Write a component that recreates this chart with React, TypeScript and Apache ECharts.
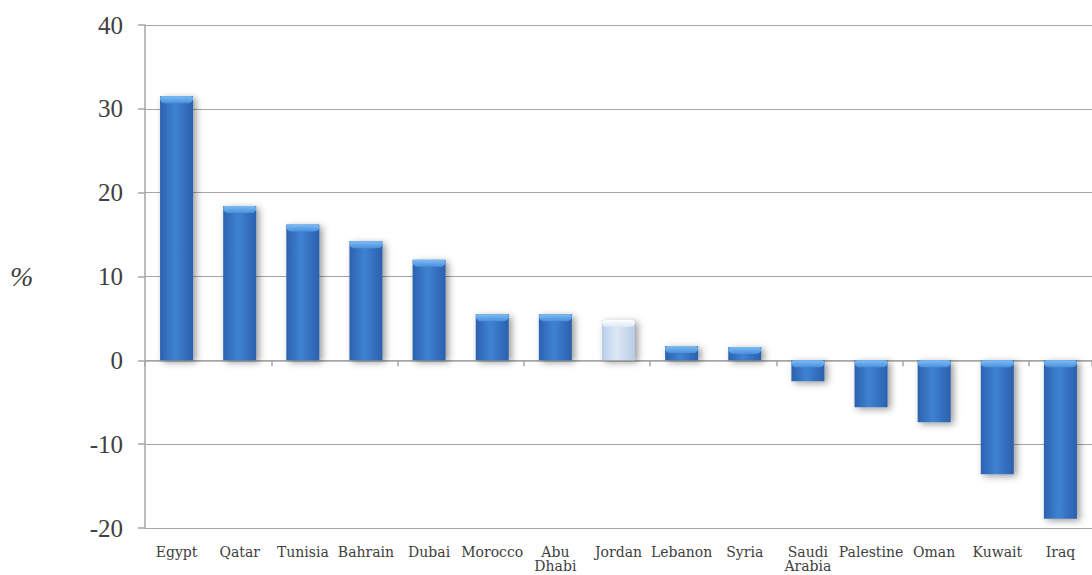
import React, { useEffect, useRef } from "react";
import * as echarts from "echarts";

const categories = ["Egypt", "Qatar", "Tunisia", "Bahrain", "Dubai", "Morocco", "Abu\nDhabi", "Jordan", "Lebanon", "Syria", "Saudi\nArabia", "Palestine", "Oman", "Kuwait", "Iraq"];
const values = [31.5, 18.4, 16.2, 14.2, 12.0, 5.5, 5.5, 4.8, 1.7, 1.6, -2.5, -5.6, -7.4, -13.6, -18.9];
const highlighted = ["Jordan"];
const yTicks = { min: -20, max: 40, interval: 10 };

const TICK_FONT = "Liberation Serif";
const LABEL_FONT = "DejaVu Serif";

export default function App() {
  const ref = useRef<HTMLDivElement>(null);
  useEffect(() => {
    if (!ref.current) return;
    const chart = echarts.init(ref.current, null, { renderer: "svg" });
    const blueGrad = new echarts.graphic.LinearGradient(0, 0, 1, 0, [
      { offset: 0, color: "#2c62ae" },
      { offset: 0.45, color: "#3f82d2" },
      { offset: 1, color: "#2b60ad" },
    ]);
    const lightGrad = new echarts.graphic.LinearGradient(0, 0, 1, 0, [
      { offset: 0, color: "#b9cde8" },
      { offset: 0.45, color: "#dde8f6" },
      { offset: 1, color: "#b7cbe6" },
    ]);
    const data = values.map((v, i) => {
      const hl = highlighted.includes(categories[i]);
      return {
        value: v,
        itemStyle: {
          color: hl ? lightGrad : blueGrad,
          shadowColor: "rgba(0,0,0,0.4)",
          shadowBlur: 7,
          shadowOffsetX: 3,
          shadowOffsetY: 2,
        },
      };
    });
    chart.setOption({
      animation: false,
      grid: { left: 145, top: 25, width: 955, height: 503, containLabel: false },
      xAxis: [
        {
          type: "category",
          data: categories,
          position: "bottom",
          axisLine: { show: false, onZero: false },
          axisTick: { show: false },
          axisLabel: {
            color: "#404040",
            fontFamily: LABEL_FONT,
            fontSize: 14,
            lineHeight: 14,
            margin: 17,
            interval: 0,
          },
        },
        {
          type: "category",
          data: categories,
          position: "bottom",
          axisLine: { show: true, onZero: true, lineStyle: { color: "#a6a6a6", width: 1.5 } },
          axisTick: { show: true, length: 6, lineStyle: { color: "#a6a6a6", width: 1.5 } },
          axisLabel: { show: false },
        },
      ],
      yAxis: {
        type: "value",
        min: yTicks.min,
        max: yTicks.max,
        interval: yTicks.interval,
        axisLine: { show: true, lineStyle: { color: "#a6a6a6", width: 1.5 } },
        axisTick: { show: true, length: 7, lineStyle: { color: "#a6a6a6", width: 1.5 } },
        splitLine: { show: true, lineStyle: { color: "#a6a6a6", width: 1.2 } },
        axisLabel: { color: "#404040", fontFamily: TICK_FONT, fontSize: 25, margin: 22 },
      },
      graphic: [
        {
          type: "text",
          left: 10,
          top: 262,
          style: {
            text: "%",
            fontFamily: TICK_FONT,
            fontStyle: "italic",
            fontSize: 28,
            fill: "#404040",
          },
        },
      ],
      series: [
        {
          type: "bar",
          xAxisIndex: 1,
          data,
          barWidth: 33,
        },
        {
          type: "custom",
          xAxisIndex: 1,
          data: values.map((v, i) => [i, v]),
          z: 5,
          renderItem: (params: any, api: any) => {
            const i = api.value(0);
            const v = api.value(1);
            const hl = highlighted.includes(categories[i]);
            const p = api.coord([i, Math.max(v, 0)]);
            const w = 33;
            return {
              type: "rect",
              shape: { x: p[0] - w / 2, y: p[1], width: w, height: 7, r: [3, 3, 6, 6] },
              style: {
                fill: new echarts.graphic.LinearGradient(0, 0, 0, 1, hl
                  ? [
                      { offset: 0, color: "#ffffff" },
                      { offset: 1, color: "#dbe6f4" },
                    ]
                  : [
                      { offset: 0, color: "#7dbdf4" },
                      { offset: 1, color: "#4a8fdc" },
                    ]),
              },
            };
          },
        },
      ],
    });
    return () => chart.dispose();
  }, []);
  return (
    <div
      ref={ref}
      style={{ position: "fixed", left: 0, top: 0, width: 1092, height: 575, background: "#ffffff", overflow: "hidden" }}
    />
  );
}
